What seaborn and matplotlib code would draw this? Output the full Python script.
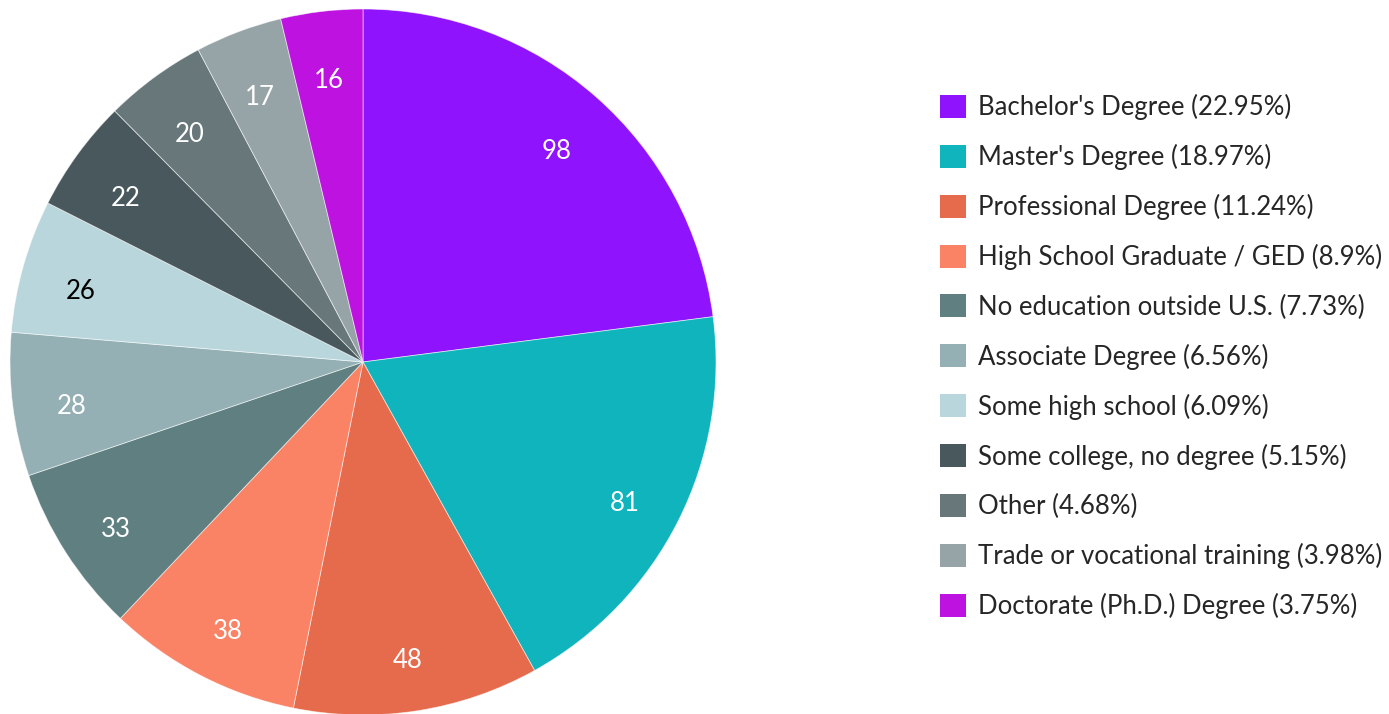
import matplotlib
matplotlib.use("Agg")
import numpy as np
import matplotlib.pyplot as plt
import seaborn as sns
from matplotlib.patches import Patch

# Data
categories = ["Bachelor's Degree", "Master's Degree", "Professional Degree",
              "High School Graduate / GED", "No education outside U.S.",
              "Associate Degree", "Some high school", "Some college, no degree",
              "Other", "Trade or vocational training", "Doctorate (Ph.D.) Degree"]
counts = [98, 81, 48, 38, 33, 28, 26, 22, 20, 17, 16]
colors = ["#9013FE", "#10B4BC", "#E66B4C", "#FA8265", "#607F81", "#94B0B4",
          "#B8D6DB", "#49585C", "#67777A", "#97A4A7", "#BE12E0"]
label_colors = ["white"] * 6 + ["black"] + ["white"] * 4

sns.set_theme(style="white")
plt.rcParams['font.family'] = ['Lato', 'DejaVu Sans']

W, H = 1389, 714
fig = plt.figure(figsize=(W / 100, H / 100), dpi=100)

# pie axes: center (363, 362) px, radius ~353 px
cx, cy, r = 363, 362, 353
ax = fig.add_axes([(cx - r) / W, (H - cy - r) / H, 2 * r / W, 2 * r / H])

wedges, texts = ax.pie(counts, colors=colors, startangle=90, counterclock=False,
                       radius=1.0,
                       wedgeprops=dict(edgecolor=(1, 1, 1, 0.6), linewidth=0.6))
# value labels sit a little below the mid-radius point
for w, c, lc in zip(wedges, counts, label_colors):
    ang = np.deg2rad((w.theta1 + w.theta2) / 2)
    ax.text(0.83 * np.cos(ang), 0.83 * np.sin(ang) - 0.026, str(c),
            ha="center", va="center", fontsize=18.5, color=lc)
ax.set_xlim(-1, 1)
ax.set_ylim(-1, 1)
ax.set_aspect("equal")
ax.axis("off")
for w in wedges:
    w.set_clip_on(False)

total = sum(counts)
handles = [Patch(facecolor=c, edgecolor="none") for c in colors]
labels = [f"{name} ({round(100 * v / total, 2):g}%)" for name, v in zip(categories, counts)]
fig.legend(handles, labels, loc="upper left", bbox_to_anchor=(930 / W, 1 - 84 / H),
           frameon=False, fontsize=18.5, handlelength=1.0, handleheight=1.0,
           handletextpad=0.47, labelspacing=0.93, borderaxespad=0)

fig.savefig("out.png", dpi=100)
